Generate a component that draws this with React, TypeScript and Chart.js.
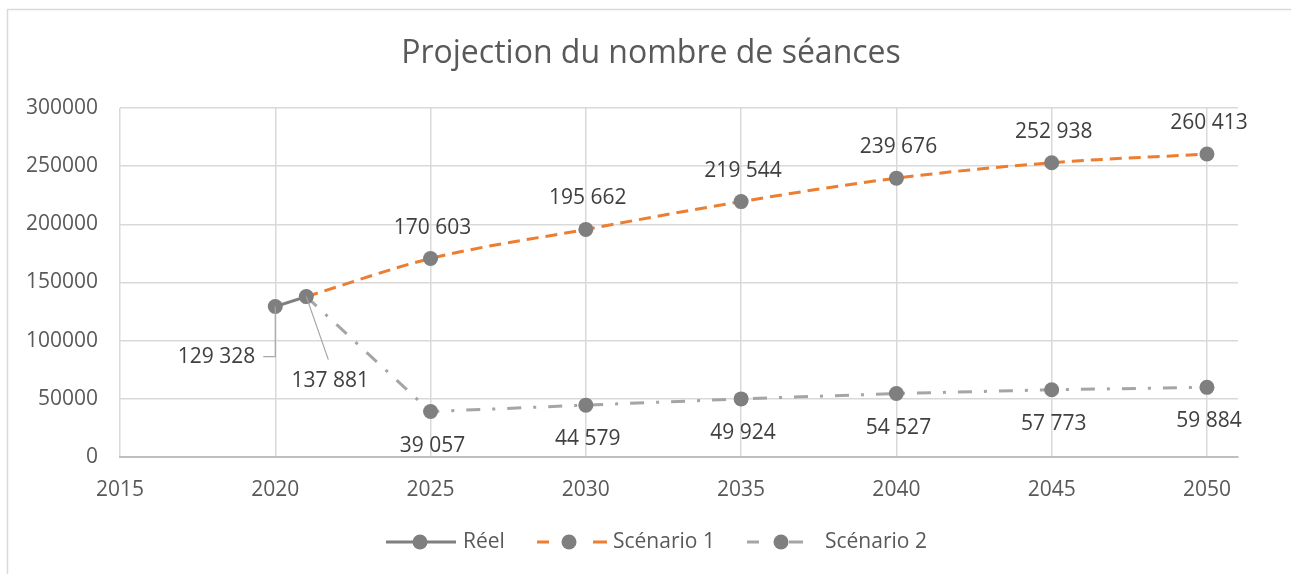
import React, { useEffect, useRef } from 'react';
import { Chart, registerables } from 'chart.js';

Chart.register(...registerables);

const chartTitle = 'Projection du nombre de séances';
const xTicks = [2015, 2020, 2025, 2030, 2035, 2040, 2045, 2050];
const seriesNames = ['Réel', 'Scénario 1', 'Scénario 2'];
const reelYears = [2020, 2021];
const reelValues = [129328, 137881];
const scenarioYears = [2021, 2025, 2030, 2035, 2040, 2045, 2050];
const scenario1Values = [137881, 170603, 195662, 219544, 239676, 252938, 260413];
const scenario2Values = [137881, 39057, 44579, 49924, 54527, 57773, 59884];

const FONT = "'Open Sans', 'Noto Sans', sans-serif";
const TEXT = '#595959';
const LABEL = '#404040';
const GREY_DARK = '#7F7F7F';
const ORANGE = '#ED7D31';
const GREY_LIGHT = '#A5A5A5';
const GRID = '#D9D9D9';

const fmt = (n: number) => String(n).replace(/\B(?=(\d{3})+(?!\d))/g, ' ');

const toPoints = (xs: number[], ys: number[]) => xs.map((x, i) => ({ x, y: ys[i] }));

const decorPlugin = {
  id: 'decor',
  beforeDraw(chart: any) {
    const ctx = chart.ctx;
    ctx.save();
    ctx.strokeStyle = GRID;
    ctx.lineWidth = 1.5;
    ctx.beginPath();
    ctx.moveTo(7.5, chart.height);
    ctx.lineTo(7.5, 9.5);
    ctx.lineTo(chart.width, 9.5);
    ctx.stroke();
    ctx.fillStyle = TEXT;
    ctx.font = `32px ${FONT}`;
    ctx.textAlign = 'center';
    ctx.textBaseline = 'middle';
    ctx.fillText(chartTitle, 651, 54);
    ctx.restore();
  },
  afterDatasetsDraw(chart: any) {
    const ctx = chart.ctx;
    ctx.save();
    ctx.font = `21px ${FONT}`;
    ctx.fillStyle = LABEL;
    ctx.textBaseline = 'middle';
    const m0 = chart.getDatasetMeta(0).data;
    const ds0 = chart.data.datasets[0].data;
    ctx.strokeStyle = '#A6A6A6';
    ctx.lineWidth = 1.2;
    if (m0[0]) {
      const p = m0[0];
      ctx.beginPath();
      ctx.moveTo(p.x, p.y);
      ctx.lineTo(p.x, p.y + 50);
      ctx.lineTo(p.x - 12, p.y + 50);
      ctx.stroke();
      ctx.textAlign = 'right';
      ctx.fillText(fmt(ds0[0].y), p.x - 20, p.y + 50);
    }
    if (m0[1]) {
      const p = m0[1];
      ctx.beginPath();
      ctx.moveTo(p.x, p.y);
      ctx.lineTo(p.x + 22, p.y + 63);
      ctx.stroke();
      ctx.textAlign = 'center';
      ctx.fillText(fmt(ds0[1].y), p.x + 24, p.y + 84);
    }
    ctx.textAlign = 'center';
    [1, 2].forEach((di) => {
      const meta = chart.getDatasetMeta(di).data;
      const data = chart.data.datasets[di].data;
      meta.forEach((p: any, i: number) => {
        if (i === 0) return;
        const dy = di === 1 ? -31 : 34;
        ctx.fillText(fmt(data[i].y), p.x + 2, p.y + dy);
      });
    });
    ctx.restore();
  },
  afterDraw(chart: any) {
    const ctx = chart.ctx;
    const y = 542;
    const ds = chart.data.datasets;
    ctx.save();
    ctx.lineCap = 'butt';
    const marker = (x: number) => {
      ctx.fillStyle = GREY_DARK;
      ctx.beginPath();
      ctx.arc(x, y, 7.5, 0, Math.PI * 2);
      ctx.fill();
    };
    const seg = (x1: number, x2: number, color: string) => {
      ctx.strokeStyle = color;
      ctx.lineWidth = 3;
      ctx.beginPath();
      ctx.moveTo(x1, y);
      ctx.lineTo(x2, y);
      ctx.stroke();
    };
    seg(386, 456, ds[0].borderColor);
    marker(420);
    seg(537, 549, ds[1].borderColor);
    marker(569);
    seg(593, 607, ds[1].borderColor);
    seg(747, 759, ds[2].borderColor);
    marker(781);
    seg(789, 803, ds[2].borderColor);
    ctx.fillStyle = TEXT;
    ctx.font = `21px ${FONT}`;
    ctx.textAlign = 'left';
    ctx.textBaseline = 'middle';
    ctx.fillText(ds[0].label, 463, y);
    ctx.fillText(ds[1].label, 613, y);
    ctx.fillText(ds[2].label, 825, y);
    ctx.restore();
  },
};

export default function App() {
  const ref = useRef<HTMLCanvasElement | null>(null);
  useEffect(() => {
    document.body.style.margin = '0';
    if (!ref.current) return;
    const hidePt = (ctx: any) => (ctx.dataIndex === 0 ? 0 : 7.5);
    const chart = new Chart(ref.current, {
      type: 'line',
      data: {
        datasets: [
          {
            label: seriesNames[0],
            data: toPoints(reelYears, reelValues),
            borderColor: GREY_DARK,
            backgroundColor: GREY_DARK,
            borderWidth: 3,
            pointRadius: 7.5,
            pointBorderWidth: 0,
            pointBackgroundColor: GREY_DARK,
            order: 0,
          },
          {
            label: seriesNames[1],
            data: toPoints(scenarioYears, scenario1Values),
            borderColor: ORANGE,
            backgroundColor: ORANGE,
            borderWidth: 3,
            borderDash: [12, 7],
            cubicInterpolationMode: 'monotone',
            pointRadius: hidePt,
            pointBorderWidth: 0,
            pointBackgroundColor: GREY_DARK,
            order: 1,
          },
          {
            label: seriesNames[2],
            data: toPoints(scenarioYears, scenario2Values),
            borderColor: GREY_LIGHT,
            backgroundColor: GREY_LIGHT,
            borderWidth: 3,
            borderDash: [14, 12, 3, 12],
            tension: 0,
            pointRadius: hidePt,
            pointBorderWidth: 0,
            pointBackgroundColor: GREY_DARK,
            order: 2,
          },
        ],
      } as any,
      options: {
        animation: false,
        responsive: false,
        events: [],
        layout: { padding: { top: 108, right: 53, bottom: 57, left: 0 } },
        plugins: { legend: { display: false }, title: { display: false }, tooltip: { enabled: false } },
        scales: {
          x: {
            type: 'linear',
            min: 2015,
            max: 2051,
            afterBuildTicks: (scale: any) => {
              scale.ticks = xTicks.map((v) => ({ value: v }));
            },
            afterFit: (scale: any) => {
              scale.height = 60;
            },
            grid: { color: GRID, lineWidth: 1.5, drawTicks: false },
            border: { display: true, color: '#BFBFBF', width: 2 },
            ticks: {
              color: TEXT,
              font: { family: FONT, size: 21 },
              padding: 20,
              callback: (v: any) => String(v),
            },
          },
          y: {
            min: 0,
            max: 300000,
            afterFit: (scale: any) => {
              scale.width = 120;
            },
            grid: { color: GRID, lineWidth: 1.5, drawTicks: false },
            border: { display: false },
            ticks: {
              stepSize: 50000,
              color: TEXT,
              font: { family: FONT, size: 21 },
              padding: 22,
              callback: (v: any) => String(v),
            },
          },
        },
      } as any,
      plugins: [decorPlugin],
    });
    return () => chart.destroy();
  }, []);
  return <canvas ref={ref} width={1291} height={574} style={{ display: 'block' }} />;
}
